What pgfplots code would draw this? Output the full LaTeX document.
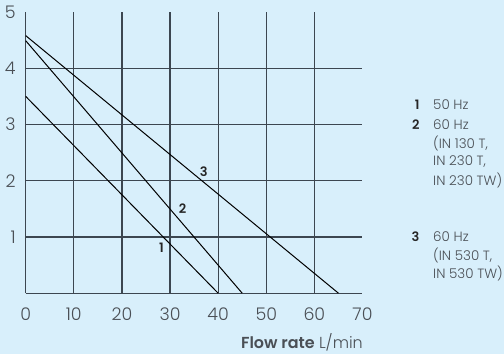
\documentclass[border=0pt]{standalone}
\usepackage{pgfplots}
\pgfplotsset{compat=1.18}
\usepackage{fontspec}
\setmainfont{Poppins Light}[BoldFont={Poppins SemiBold}]
\definecolor{bgc}{HTML}{D8EFFB}
\definecolor{gridc}{HTML}{3C4650}
\definecolor{txt}{HTML}{4A4F55}
\begin{document}
\begin{tikzpicture}[x=1bp,y=1bp]
\fill[bgc] (-25.7bp,-60.8bp) rectangle (478.3bp,293.2bp);
\begin{axis}[
  at={(0,0)}, anchor=origin,
  scale only axis, width=336.8bp, height=281.2bp,
  xmin=0, xmax=70, ymin=0, ymax=5,
  axis line style={draw=none},
  clip=false,
  xtick={0,10,...,60}, extra x ticks={70},
  ytick={0,1,2,3,4}, yticklabels={,1,2,3,4}, extra y ticks={5},
  extra tick style={grid=none},
  xmajorgrids, ymajorgrids,
  major grid style={gridc, line width=1.2bp},
  major tick length=0pt,
  /pgf/number format/assume math mode=true,
  tick label style={font=\fontsize{17.5}{19}\selectfont, text=txt},
  xticklabel style={yshift=-11bp},
  yticklabel style={xshift=-6.5bp},
]
\addplot[black, line width=1bp] coordinates {(0,3.5) (40,0)};
\addplot[black, line width=1bp] coordinates {(0,4.49) (45,0)};
\addplot[black, line width=1bp] coordinates {(0,4.58) (65,0)};
\node[font=\fontsize{13}{14}\selectfont\bfseries, text=black!85] at (axis cs:28.2,0.80) {1};
\node[font=\fontsize{13}{14}\selectfont\bfseries, text=black!85] at (axis cs:32.6,1.51) {2};
\node[font=\fontsize{13}{14}\selectfont\bfseries, text=black!85] at (axis cs:37.0,2.16) {3};
\end{axis}
\begin{scope}[every node/.style={inner sep=0pt, font=\fontsize{13.5}{15}\selectfont, text=txt}]
\tikzset{num/.style={anchor=east, font=\fontsize{13}{15}\selectfont\bfseries, text=black!85}}
\node[num] at (394bp,188.2bp) {1};
\node[anchor=west] at (407.3bp,188.2bp) {50 Hz};
\node[num] at (394bp,168.9bp) {2};
\node[anchor=west] at (407.3bp,168.9bp) {60 Hz};
\node[anchor=west] at (407.3bp,149.9bp) {(IN 130 T,};
\node[anchor=west] at (407.3bp,131.5bp) {IN 230 T,};
\node[anchor=west] at (407.3bp,113.2bp) {IN 230 TW)};
\node[num] at (394bp,56.5bp) {3};
\node[anchor=west] at (407.3bp,56.5bp) {60 Hz};
\node[anchor=west] at (407.3bp,38.2bp) {(IN 530 T,};
\node[anchor=west] at (407.3bp,19.9bp) {IN 530 TW)};
\end{scope}
\node[anchor=base east, inner sep=0pt, font=\fontsize{16}{18}\selectfont, text=txt] at (337.3bp,-55.6bp) {\textbf{Flow rate} L/min};
\end{tikzpicture}
\end{document}
